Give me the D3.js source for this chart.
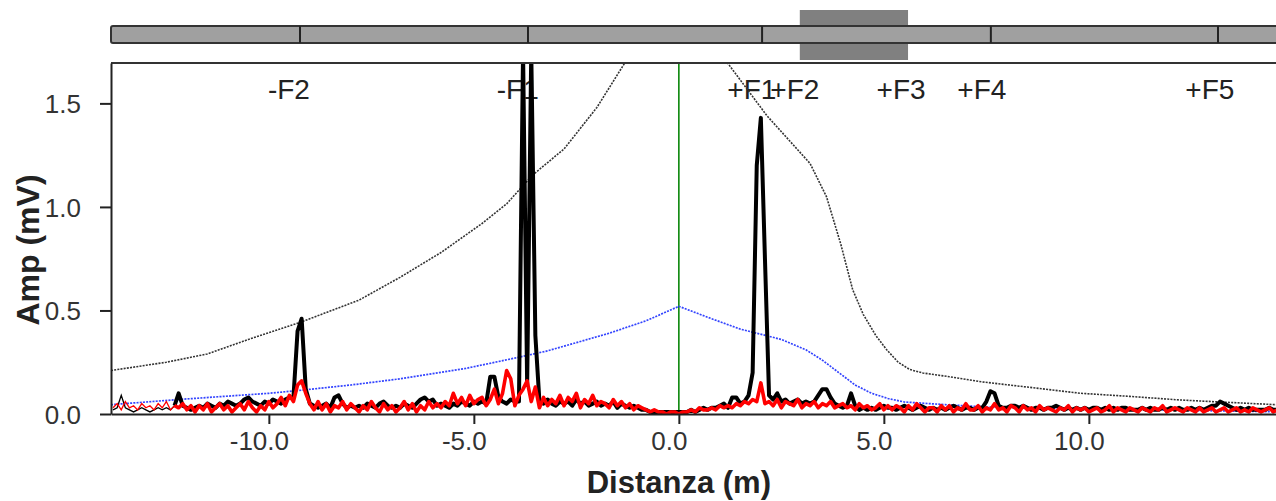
<!DOCTYPE html>
<html>
<head>
<meta charset="utf-8">
<script src="https://cdn.jsdelivr.net/npm/d3@7"></script>
<style>
body { margin: 0; background: #fff; }
svg { display: block; font-family: "Liberation Sans", Arial, sans-serif; }
</style>
</head>
<body>
<svg id="chart" width="1276" height="501"></svg>
<script>
// sampling of the two measured signals
var distStart = -13.8;
var distStep = 0.1;

// amplitudes in hundredths of mV, one value every 0.1 m starting at -13.8 m
var blackSignal = [
    2,3,9,3,2,1,2,3,2,1,   2,3,2,3,2,4,10,4,3,2,   3,4,3,5,4,3,5,4,6,5,
    4,5,7,8,6,5,4,6,5,7,   6,5,7,8,8,40,46,12,5,4,  3,4,5,3,8,9,5,3,4,3,
    4,3,5,4,3,5,6,4,3,4,   3,5,4,3,5,7,8,6,7,4,    5,4,3,5,4,6,5,4,6,5,
    6,5,18,18,8,6,5,7,6,6, 175,14,175,38,6,5,7,5,4,6, 5,6,4,7,5,6,4,5,6,4,
    5,4,6,3,5,4,3,4,3,2,   2,1,1,1,1,1,1,1,1,1,    1,2,1,2,3,2,3,3,4,5,
    3,8,8,5,6,9,20,120,143,75, 9,7,10,6,7,5,6,7,5,6, 5,6,9,12,12,8,5,4,3,4,
    10,4,2,3,2,3,2,3,4,3,  3,2,3,4,3,2,3,4,3,2,    3,2,3,2,3,4,3,2,3,3,
    2,3,3,6,11,10,4,3,3,4, 4,3,4,3,2,3,3,2,3,3,    4,3,2,3,2,3,2,3,2,3,
    3,2,3,2,3,2,3,3,2,2,   2,3,2,3,2,2,3,2,3,2,    3,2,2,3,2,3,2,3,4,4,
    6,5,4,3,2,3,2,3,2,2,   2,2,3,2,2
];
var redSignal = [
    3,5,2,6,3,4,2,5,3,4,   2,5,3,6,2,4,3,5,2,4,    1,4,2,5,1,3,5,2,4,1,
    3,5,2,6,3,1,4,2,6,3,   5,8,4,9,6,14,16,10,5,2, 6,2,5,1,4,3,6,2,5,3,
    1,4,2,6,3,1,5,2,4,1,   3,6,2,5,1,4,2,6,3,5,    3,6,4,10,5,8,4,9,5,7,
    8,4,7,12,5,10,21,17,4,9, 12,16,6,13,3,8,4,7,5,9, 4,8,6,10,3,7,5,9,4,6,
    5,3,7,4,6,3,5,2,4,3,   2,1,2,1,1,0,1,1,0,1,    1,2,1,3,2,2,3,2,4,3,
    4,3,5,4,6,5,7,6,15,5,  6,4,7,3,6,5,4,7,3,5,    4,6,3,5,4,6,3,4,5,3,
    4,2,5,3,4,2,3,5,2,4,   2,4,3,1,4,2,5,3,1,3,    3,1,4,2,4,1,3,2,5,2,
    2,4,1,3,2,5,2,3,1,4,   3,1,4,2,3,1,4,2,3,2,    1,3,2,4,1,3,2,3,1,2,
    3,1,2,4,1,3,2,1,3,2,   1,3,2,1,3,2,4,1,2,3,    2,1,3,2,1,3,1,2,3,1,
    2,3,1,2,3,1,2,1,3,2,   1,2,3,1,2
];

// threshold curves [distance m, mV]
var thresholdCurve = [
    [-13.85, 0.21], [-12.5, 0.25], [-11.5, 0.29], [-10.5, 0.36], [-9.2, 0.445],
    [-7.8, 0.55], [-6.8, 0.66], [-5.8, 0.78], [-4.8, 0.92], [-4.2, 1.015],
    [-3.56, 1.155], [-2.8, 1.28], [-2.0, 1.48], [-1.32, 1.695], [-0.9, 1.95],
    [0.9, 1.95], [1.17, 1.70], [2.15, 1.44], [3.2, 1.21], [3.6, 1.05],
    [3.95, 0.82], [4.24, 0.6], [4.5, 0.48], [4.8, 0.38], [5.07, 0.31],
    [5.35, 0.25], [5.63, 0.215], [5.95, 0.198], [6.6, 0.18], [7.4, 0.155],
    [8.5, 0.13], [9.8, 0.1], [11.0, 0.085], [12.2, 0.068], [13.2, 0.058], [14.9, 0.042]
];
var blueCurve = [
    [-13.85, 0.045], [-12.2, 0.07], [-10.0, 0.1], [-9.2, 0.115], [-8.0, 0.14],
    [-6.8, 0.17], [-5.2, 0.22], [-4.0, 0.27], [-3.2, 0.305], [-1.7, 0.39],
    [-0.8, 0.45], [0.0, 0.52], [0.8, 0.46], [1.5, 0.41], [2.5, 0.36],
    [3.1, 0.31], [3.5, 0.26], [3.9, 0.2], [4.3, 0.14], [4.7, 0.1],
    [5.1, 0.075], [5.5, 0.058], [6.5, 0.045], [7.5, 0.034], [10.0, 0.025],
    [12.5, 0.017], [14.9, 0.01]
];

var xTicks = [-10, -5, 0, 5, 10];
var yTicks = [0, 0.5, 1.0, 1.5];

var fLabels = ["-F2", "-F1", "+F1", "+F2", "+F3", "+F4", "+F5"];
var fLabelPos = [-9.51, -3.93, 1.78, 2.83, 5.42, 7.39, 12.95];

// track strip above the plot
var barDividers = [-9.24, -3.68, 2.03, 7.61, 13.15];
var highlightZone = [2.95, 5.59];

var thinUntil = -12.25;

var svg = d3.select("#chart");
var plotLeft = 111, plotTop = 63, plotBottom = 414, plotRight = 1300;

var x = d3.scaleLinear().domain([-13.85, 14.9]).range([plotLeft, 1289.75]);
var y = d3.scaleLinear().domain([0, 1.695]).range([plotBottom, plotTop]);

var fmt = d3.formatLocale({decimal: ".", thousands: ",", grouping: [3], currency: ["", ""], minus: "-"}).format(".1f");

function toPoints(arr) {
    return arr.map(function (v, i) {
        return [distStart + i * distStep, v / 100];
    });
}

var line = d3.line()
    .x(function (d) { return x(d[0]); })
    .y(function (d) { return y(d[1]); });

svg.append("defs").append("clipPath").attr("id", "plotClip")
    .append("rect")
    .attr("x", plotLeft).attr("y", plotTop)
    .attr("width", plotRight - plotLeft).attr("height", plotBottom - plotTop);

// top strip
svg.append("rect")
    .attr("x", x(highlightZone[0])).attr("y", 10)
    .attr("width", x(highlightZone[1]) - x(highlightZone[0])).attr("height", 50)
    .attr("fill", "#808080");

svg.append("rect")
    .attr("x", plotLeft).attr("y", 26)
    .attr("width", plotRight - plotLeft).attr("height", 17)
    .attr("rx", 2)
    .attr("fill", "#a0a0a0")
    .attr("stroke", "#333")
    .attr("stroke-width", 2);

svg.selectAll(".divider")
    .data(barDividers)
    .enter().append("line")
    .attr("class", "divider")
    .attr("x1", function (d) { return x(d); })
    .attr("x2", function (d) { return x(d); })
    .attr("y1", 26).attr("y2", 43)
    .attr("stroke", "#222")
    .attr("stroke-width", 2);

// F labels go under the curves
svg.selectAll(".flabel")
    .data(fLabels)
    .enter().append("text")
    .attr("class", "flabel")
    .attr("x", function (d, i) { return x(fLabelPos[i]); })
    .attr("y", 99)
    .attr("text-anchor", "middle")
    .attr("font-size", 28)
    .attr("fill", "#222")
    .text(function (d) { return d; });

var plot = svg.append("g").attr("clip-path", "url(#plotClip)");

plot.append("line")
    .attr("x1", x(0)).attr("x2", x(0))
    .attr("y1", plotTop).attr("y2", plotBottom)
    .attr("stroke", "#0a870a")
    .attr("stroke-width", 1.6);

plot.append("path")
    .datum(thresholdCurve)
    .attr("d", line)
    .attr("fill", "none")
    .attr("stroke", "#333")
    .attr("stroke-width", 1.6)
    .attr("stroke-dasharray", "2,1.2");

plot.append("path")
    .datum(blueCurve)
    .attr("d", line)
    .attr("fill", "none")
    .attr("stroke", "#3344ff")
    .attr("stroke-width", 1.7)
    .attr("stroke-dasharray", "2,1.2");

function drawSignal(arr, color, width) {
    var pts = toPoints(arr);
    plot.append("path")
        .datum(pts.filter(function (d) { return d[0] <= thinUntil + 0.05; }))
        .attr("d", line)
        .attr("fill", "none")
        .attr("stroke", color)
        .attr("stroke-width", 1.3);
    plot.append("path")
        .datum(pts.filter(function (d) { return d[0] >= thinUntil - 0.05; }))
        .attr("d", line)
        .attr("fill", "none")
        .attr("stroke", color)
        .attr("stroke-width", width)
        .attr("stroke-linejoin", "round");
}

drawSignal(blackSignal, "#000", 4);
drawSignal(redSignal, "#ff0000", 3.6);

// frame and axes
svg.append("line")
    .attr("x1", plotLeft).attr("x2", plotRight)
    .attr("y1", plotTop).attr("y2", plotTop)
    .attr("stroke", "#333")
    .attr("stroke-width", 2);

var yAxis = svg.append("g")
    .attr("transform", "translate(" + plotLeft + ",0)")
    .call(d3.axisLeft(y).tickValues(yTicks).tickFormat(fmt)
        .tickSize(11).tickSizeOuter(0).tickPadding(19));

var xAxis = svg.append("g")
    .attr("transform", "translate(0," + plotBottom + ")")
    .call(d3.axisBottom(x).tickValues(xTicks).tickFormat(fmt)
        .tickSize(10).tickSizeOuter(0).tickPadding(8));

[yAxis, xAxis].forEach(function (g) {
    g.attr("font-family", null).attr("font-size", null);
    g.select(".domain").attr("stroke", "#222").attr("stroke-width", 2);
    g.selectAll(".tick line").attr("stroke", "#222").attr("stroke-width", 2);
    g.selectAll(".tick text").attr("font-size", 26).attr("fill", "#333");
});
yAxis.selectAll(".tick text").attr("dy", "0.35em");
xAxis.selectAll(".tick text").attr("dx", -10);

svg.append("text")
    .attr("transform", "translate(39,250) rotate(-90)")
    .attr("text-anchor", "middle")
    .attr("font-size", 32)
    .attr("font-weight", "bold")
    .attr("fill", "#222")
    .text("Amp (mV)");

svg.append("text")
    .attr("x", x(0))
    .attr("y", 493)
    .attr("text-anchor", "middle")
    .attr("font-size", 31)
    .attr("font-weight", "bold")
    .attr("fill", "#222")
    .text("Distanza (m)");
</script>
</body>
</html>
